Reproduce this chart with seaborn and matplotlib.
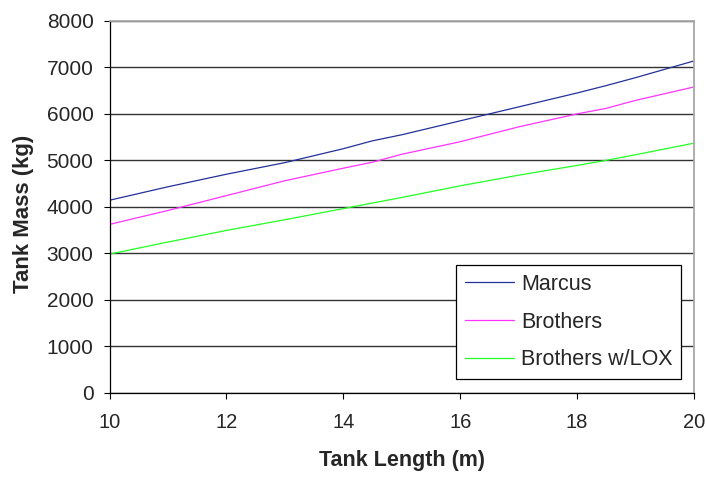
import numpy as np
import pandas as pd
import matplotlib
matplotlib.use("Agg")
import matplotlib.pyplot as plt
import seaborn as sns

# Tank length (m) and tank mass (kg) for each sizing method
tank_length = [10, 11, 12, 13, 14, 14.5, 15, 16, 17, 18, 18.5, 19, 20]
marcus = [4140, 4430, 4700, 4950, 5250, 5420, 5550, 5850, 6150, 6450, 6610, 6780, 7140]
brothers = [3620, 3920, 4240, 4560, 4830, 4960, 5130, 5400, 5720, 6000, 6120, 6290, 6580]
brothers_lox = [2980, 3240, 3490, 3720, 3960, 4080, 4200, 4450, 4680, 4890, 5000, 5120, 5370]

series_names = ["Marcus", "Brothers", "Brothers w/LOX"]
series_colors = ["#22329a", "#FF33FF", "#22FF22"]
x_ticks = [10, 12, 14, 16, 18, 20]
y_ticks = [0, 1000, 2000, 3000, 4000, 5000, 6000, 7000, 8000]

df = pd.concat([
    pd.DataFrame({"length": tank_length, "mass": vals, "method": name})
    for name, vals in zip(series_names, [marcus, brothers, brothers_lox])
])

sns.set_style("white")
plt.rcParams["font.family"] = ["Liberation Sans", "DejaVu Sans"]

fig = plt.figure(figsize=(7.06, 4.79), dpi=100)
ax = fig.add_axes([109.5 / 706, 1 - 392.5 / 479, (694 - 109.5) / 706, (392.5 - 21) / 479])

sns.lineplot(data=df, x="length", y="mass", hue="method", hue_order=series_names,
             palette=series_colors, linewidth=0.9, ax=ax, legend=True)

ax.set_xlim(10, 20)
ax.set_ylim(0, 8000)
ax.set_xticks(x_ticks)
ax.set_yticks(y_ticks)
ax.tick_params(axis="both", direction="out", length=4.5, width=0.8,
               color="black", left=True, bottom=True)
ax.tick_params(axis="y", labelsize=15, pad=7)
ax.tick_params(axis="x", labelsize=14.5, pad=10)
ax.yaxis.grid(True, color="#333333", linewidth=1.0)
ax.xaxis.grid(False)
ax.set_axisbelow(True)

for side in ["top", "right"]:
    ax.spines[side].set_color("#a8a8a8")
    ax.spines[side].set_linewidth(1.3)
for side in ["left", "bottom"]:
    ax.spines[side].set_color("black")
    ax.spines[side].set_linewidth(0.9)

ax.set_xlabel("Tank Length (m)", fontsize=15.5, fontweight="bold", labelpad=13)
ax.set_ylabel("Tank Mass (kg)", fontsize=16, fontweight="bold", labelpad=9)
ax.yaxis.label.set_y(0.48)

handles, labels = ax.get_legend_handles_labels()
leg = ax.legend(handles, labels, loc="lower right", bbox_to_anchor=(681 / 706, 1 - 379 / 479),
                bbox_transform=fig.transFigure, fontsize=15.5, frameon=True, fancybox=False,
                edgecolor="black", framealpha=1, borderpad=0.4, labelspacing=0.78,
                handlelength=2.3, handletextpad=0.3, borderaxespad=0)
leg.get_frame().set_linewidth(0.9)

fig.savefig("out.png", dpi=100, facecolor="white")
